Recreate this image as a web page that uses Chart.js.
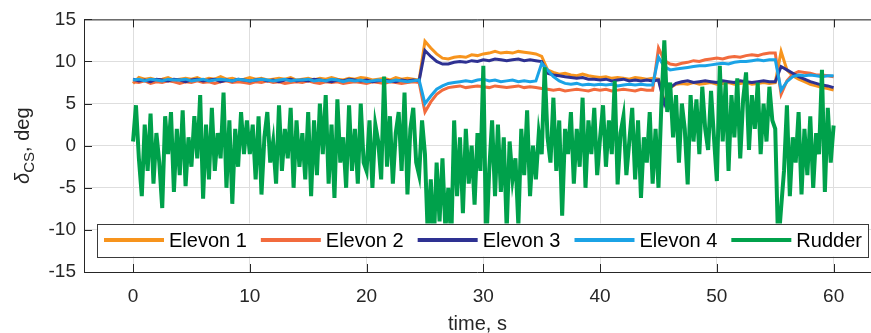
<!DOCTYPE html>
<html>
<head>
<meta charset="utf-8">
<script src="https://cdn.jsdelivr.net/npm/chart.js@4.4.1/dist/chart.umd.min.js"></script>
<style>
  html, body { margin: 0; padding: 0; background: #fff; }
</style>
</head>
<body>
<canvas id="mycanvas1" width="871" height="333"></canvas>
<script>
// sampling steps (s)
var dtElevon = 0.5;
var dtRudder = 0.25;

var seriesNames = ["Elevon 1", "Elevon 2", "Elevon 3", "Elevon 4", "Rudder"];
var xTicks = [0, 10, 20, 30, 40, 50, 60];
var yTicks = [-15, -10, -5, 0, 5, 10, 15];

// deflections, deg (t = 0, 0.5, ... 60)
var elevon1 = [
  7.4, 8.1, 7.9, 8.0, 7.8, 7.9, 8.1, 7.8, 7.9, 8.0,
  7.9, 8.1, 7.8, 8.0, 7.9, 8.2, 7.9, 8.0, 7.8, 7.9,
  8.1, 7.9, 8.0, 7.8, 7.9, 8.0, 7.9, 8.1, 7.8, 7.9,
  8.0, 7.8, 8.0, 7.9, 8.1, 7.9, 7.8, 8.0, 7.9, 8.1,
  8.0, 7.8, 7.9, 8.0, 7.8, 8.1, 7.9, 8.0, 7.9, 7.8,
  12.4, 11.6, 10.9, 10.4, 10.3, 10.5, 10.6, 10.5, 10.8, 10.7,
  10.9, 11.0, 11.2, 11.0, 11.1, 11.0, 11.2, 11.1, 11.0, 10.9,
  10.6, 9.0, 8.7, 8.5, 8.6, 8.4, 8.3, 8.5, 8.3, 8.2,
  8.1, 8.2, 8.0, 8.1, 8.0, 7.9, 8.1, 8.0, 7.9, 8.0,
  7.9, 5.2, 6.9, 7.3, 7.4, 7.3, 7.5, 7.3, 7.4, 7.5,
  7.3, 7.4, 7.5, 7.3, 7.4, 7.5, 7.3, 7.4, 7.5, 7.4,
  7.5, 11.2, 9.0, 8.3, 7.9, 7.6, 7.3, 7.1, 6.9, 6.8, 6.6
];
var elevon2 = [
  7.6, 7.5, 7.7, 7.4, 7.6, 7.5, 7.7, 7.6, 7.4, 7.6,
  7.5, 7.7, 7.5, 7.6, 7.4, 7.6, 7.7, 7.5, 7.6, 7.5,
  7.4, 7.6, 7.5, 7.7, 7.5, 7.6, 7.4, 7.5, 7.6, 7.5,
  7.7, 7.5, 7.4, 7.6, 7.5, 7.6, 7.4, 7.5, 7.6, 7.5,
  7.4, 7.6, 7.5, 7.4, 7.6, 7.5, 7.4, 7.5, 7.6, 7.5,
  4.0, 5.2, 6.1, 6.6, 6.9, 7.0, 7.1, 6.9, 7.0, 7.1,
  7.0, 6.9, 7.1, 7.0, 6.9, 7.0, 7.1, 6.9, 7.0, 6.9,
  6.8, 6.7, 6.6, 6.7, 6.5, 6.6, 6.7, 6.6, 6.5, 6.7,
  6.6, 6.7, 6.5, 6.6, 6.7, 6.6, 6.5, 6.7, 6.6, 6.6,
  11.6, 10.1, 9.7, 9.6, 9.8, 9.9, 10.1, 10.0, 10.2, 10.3,
  10.4, 10.3, 10.5, 10.6, 10.5, 10.7, 10.8, 10.7, 10.9, 11.0,
  11.0, 6.1, 7.7, 8.5, 8.8, 8.7, 8.6, 8.4, 8.4, 8.3, 8.2
];
var elevon3 = [
  7.9, 7.7, 7.8, 7.6, 7.9, 7.8, 7.7, 7.9, 7.8, 7.6,
  7.8, 7.9, 7.7, 7.8, 7.9, 7.6, 7.8, 7.7, 7.9, 7.8,
  7.7, 7.8, 7.9, 7.7, 7.8, 7.6, 7.8, 7.9, 7.7, 7.8,
  7.7, 7.9, 7.8, 7.7, 7.6, 7.8, 7.7, 7.9, 7.8, 7.7,
  7.8, 7.6, 7.7, 7.8, 7.7, 7.6, 7.8, 7.7, 7.8, 7.7,
  11.3, 10.6, 10.0, 9.7, 9.7, 9.9, 10.0, 9.9, 10.1, 10.0,
  10.2, 10.1, 10.3, 10.2, 10.1, 10.2, 10.3, 10.1, 10.2, 10.1,
  10.0, 8.6, 8.4, 8.3, 8.2, 8.1, 8.0, 8.1, 7.9, 7.9,
  7.8, 7.9, 7.7, 7.8, 7.9, 7.7, 7.8, 7.7, 7.8, 7.7,
  7.8, 5.0, 6.9, 7.4, 7.6, 7.7, 7.5, 7.6, 7.7, 7.6,
  7.5, 7.7, 7.6, 7.5, 7.7, 7.6, 7.5, 7.6, 7.7, 7.6,
  7.6, 9.4, 9.0, 8.6, 8.2, 7.9, 7.6, 7.4, 7.2, 7.1, 6.9
];
var elevon4 = [
  7.8, 7.9, 7.7, 7.9, 7.8, 7.7, 7.9, 7.8, 7.8, 7.9,
  7.7, 7.8, 7.9, 7.7, 7.8, 7.9, 7.8, 7.7, 7.9, 7.8,
  7.7, 7.8, 7.9, 7.8, 7.7, 7.8, 7.9, 7.7, 7.8, 7.8,
  7.9, 7.7, 7.8, 7.7, 7.9, 7.8, 7.6, 7.8, 7.7, 7.8,
  7.6, 7.7, 7.8, 7.7, 7.6, 7.8, 7.7, 7.6, 7.7, 7.8,
  5.0, 5.9, 6.7, 7.1, 7.4, 7.5, 7.6, 7.7, 7.6, 7.8,
  7.9, 7.7, 7.8, 7.6, 7.7, 7.8, 7.6, 7.7, 7.6, 7.7,
  9.8, 9.0, 8.2, 7.7, 7.4, 7.3, 7.4, 7.2, 7.3, 7.2,
  7.3, 7.2, 7.3, 7.1, 7.2, 7.3, 7.2, 7.3, 7.2, 7.2,
  10.5, 9.4, 9.0, 9.1, 9.2, 9.3, 9.4, 9.5, 9.5, 9.6,
  9.7, 9.8, 9.7, 9.9, 10.0, 10.0, 10.1, 10.2, 10.1, 10.2,
  10.2, 6.6, 7.6, 8.2, 8.4, 8.3, 8.4, 8.3, 8.2, 8.3, 8.3
];
// t = 0, 0.25, ... 60
var rudder = [
  0.5, 4.8, -1.5, -6.0, 2.5, -3.0, 3.8, -4.5, 1.5, -2.0, -7.4, 3.5, -1.0, 4.0, -5.5, 2.0, -3.5, 4.2, -4.8, 1.0,
  -2.5, 3.5, -1.5, 6.0, -6.3, 2.5, -4.0, 4.5, -3.0, 1.5, -1.5, 6.3, -5.0, 3.0, -6.9, 2.0, -2.5, 4.0, -1.0, 3.0,
  -1.0, 2.5, -4.0, 3.5, -5.8, 1.0, 4.0, -2.0, 0.5, -4.5, 4.8, -3.0, 2.0, -1.5, 4.5, -5.0, 3.0, -2.5, 1.5, -4.0,
  4.0, -6.0, 3.0, -3.5, 5.0, -1.0, 6.0, -4.5, 2.5, -6.2, 5.5, -2.0, 1.0, -5.0, 4.8, -3.0, 2.0, -4.5, 5.0, -2.0,
  -3.0, 3.0, -5.0, 2.5, 0.5, -4.0, 8.2, -2.5, 3.5, -4.5, 1.5, 4.0, -3.0, 6.3, -5.8, 2.0, 4.5, -2.0, -3.5, 3.0,
  -1.0, -11.0, -4.0, -12.0, -2.0, -9.0, -1.5, -10.0, -5.0, -11.5, 3.0, -6.0, 1.0, -8.0, 2.0, -4.5, 0.0, -7.0, 1.5, -3.0,
  9.5, -12.0, -3.0, 3.0, -6.0, 2.5, -5.5, 1.0, -10.0, 0.5, -4.0, -1.5, -9.5, 2.0, -3.5, 4.2, -6.0, 0.0, -4.0, 1.5,
  -1.0, 9.3, 1.0, -2.0, 5.7, -3.0, 3.0, -8.3, 2.0, -1.0, 4.0, -4.5, 2.0, -2.5, 5.7, -5.0, 3.0, -1.0, 4.5, -3.5,
  1.0, 4.8, -2.5, 3.0, -1.0, 7.7, -4.6, 1.5, 3.5, -3.5, 0.5, 4.5, -4.0, 3.0, -6.2, 1.0, -2.0, 4.0, -4.5, 2.0,
  -5.0, 5.0, 12.5, 4.0, 7.5, 1.0, 6.0, -2.0, 5.0, 2.0, -4.6, 6.0, 0.5, 5.5, -1.0, 7.0, 2.0, -0.5, 6.5, 1.0,
  -4.2, 9.5, 0.5, 7.5, -3.0, 6.0, 1.0, 8.0, -1.5, 5.5, 8.7, -0.5, 6.0, 2.0, 7.5, -1.0, 5.0, 0.5, 7.0, 3.0,
  2.0, -12.0, -7.4, -3.0, 4.8, -6.0, 1.0, -2.0, 4.0, -5.8, 2.0, -3.5, 3.5, -5.0, 1.5, -1.0, 9.0, -5.5, 4.5, -2.0,
  2.4
];

var colors = ["#F7941D", "#F26B3D", "#2E3192", "#1BA3E6", "#00A14B"];
var fontFam = "'Liberation Sans', Arial, Helvetica, sans-serif";
var ink = "#262626";

function toPoints(vals, dt) {
  var pts = [];
  for (var i = 0; i < vals.length; i++) pts.push({x: i * dt, y: vals[i]});
  return pts;
}

var allSeries = [
  toPoints(elevon1, dtElevon),
  toPoints(elevon2, dtElevon),
  toPoints(elevon3, dtElevon),
  toPoints(elevon4, dtElevon),
  toPoints(rudder, dtRudder)
];

var datasets = [];
for (var i = 0; i < allSeries.length; i++) {
  datasets.push({
    label: seriesNames[i],
    data: allSeries[i],
    borderColor: colors[i],
    backgroundColor: colors[i],
    borderWidth: i == 4 ? 4 : 3,
    pointRadius: 0,
    fill: false,
    tension: 0,
    order: 4 - i   // rudder on top, elevon 1 at the bottom
  });
}

// axes box, inward ticks and axis titles
var framePlugin = {
  id: 'frame',
  afterDatasetsDraw: function(chart) {
    var ctx = chart.ctx, a = chart.chartArea;
    var xs = chart.scales.x, ys = chart.scales.y;
    ctx.save();
    ctx.strokeStyle = ink;
    ctx.lineWidth = 1;
    ctx.beginPath();
    ctx.moveTo(a.left + 0.5, a.top); ctx.lineTo(a.left + 0.5, a.bottom);
    ctx.moveTo(a.left, a.top + 0.5); ctx.lineTo(a.right, a.top + 0.5);
    ctx.moveTo(a.left, a.bottom + 0.5); ctx.lineTo(a.right, a.bottom + 0.5);
    xTicks.forEach(function(v) {
      var px = Math.round(xs.getPixelForValue(v)) + 0.5;
      ctx.moveTo(px, a.bottom); ctx.lineTo(px, a.bottom - 8);
      ctx.moveTo(px, a.top); ctx.lineTo(px, a.top + 8);
    });
    yTicks.forEach(function(v) {
      var py = Math.round(ys.getPixelForValue(v)) + 0.5;
      ctx.moveTo(a.left, py); ctx.lineTo(a.left + 8, py);
    });
    ctx.stroke();

    // x title
    ctx.fillStyle = ink;
    ctx.font = "20px " + fontFam;
    ctx.textAlign = 'center';
    ctx.textBaseline = 'alphabetic';
    ctx.fillText("time, s", (a.left + a.right) / 2, 330);

    // y title with subscript
    ctx.translate(29, (a.top + a.bottom) / 2);
    ctx.rotate(-Math.PI / 2);
    ctx.textAlign = 'left';
    var fMain = "20px " + fontFam, fDelta = "italic 20px " + fontFam, fSub = "15px " + fontFam;
    ctx.font = fDelta; var w1 = ctx.measureText("δ").width;
    ctx.font = fSub; var w2 = ctx.measureText("CS").width;
    ctx.font = fMain; var w3 = ctx.measureText(", deg").width;
    var x0 = -(w1 + w2 + w3) / 2;
    ctx.font = fDelta; ctx.fillText("δ", x0, 0);
    ctx.font = fSub; ctx.fillText("CS", x0 + w1, 5);
    ctx.font = fMain; ctx.fillText(", deg", x0 + w1 + w2, 0);
    ctx.restore();
  }
};

// legend box inside the axes, bottom
var legendPlugin = {
  id: 'boxLegend',
  afterDraw: function(chart) {
    var ctx = chart.ctx, a = chart.chartArea;
    ctx.save();
    ctx.font = "20px " + fontFam;
    var padL = 7, lineLen = 60, gapText = 5, gapItem = 14, padR = 6;
    var total = padL;
    var widths = [];
    chart.data.datasets.forEach(function(ds, i) {
      var w = ctx.measureText(ds.label).width;
      widths.push(w);
      total += lineLen + gapText + w + (i < chart.data.datasets.length - 1 ? gapItem : 0);
    });
    total += padR;
    var bx = a.left + 13, bh = 33, by = a.bottom - 15.5 - bh;
    ctx.fillStyle = '#ffffff';
    ctx.fillRect(bx, by, total, bh);
    ctx.strokeStyle = '#3a3a3a';
    ctx.lineWidth = 1;
    ctx.strokeRect(Math.round(bx) + 0.5, Math.round(by) + 0.5, Math.round(total), bh);
    var cy = by + bh / 2;
    var x = bx + padL;
    ctx.textBaseline = 'middle';
    ctx.textAlign = 'left';
    chart.data.datasets.forEach(function(ds, i) {
      ctx.strokeStyle = ds.borderColor;
      ctx.lineWidth = 4;
      ctx.beginPath();
      ctx.moveTo(x, cy); ctx.lineTo(x + lineLen, cy);
      ctx.stroke();
      ctx.fillStyle = '#000000';
      ctx.fillText(ds.label, x + lineLen + gapText, cy + 1);
      x += lineLen + gapText + widths[i] + gapItem;
    });
    ctx.restore();
  }
};

var ctx = document.getElementById('mycanvas1');
var chart = new Chart(ctx, {
  type: 'line',
  data: { datasets: datasets },
  plugins: [framePlugin, legendPlugin],
  options: {
    responsive: false,
    animation: false,
    devicePixelRatio: 1,
    layout: { padding: { top: 16, right: 0, bottom: 0, left: 0 } },
    plugins: { legend: { display: false }, tooltip: { enabled: false } },
    scales: {
      x: {
        type: 'linear',
        min: -4.2,
        max: 63.2,
        afterBuildTicks: function(s) { s.ticks = xTicks.map(function(v) { return {value: v}; }); },
        afterFit: function(s) { s.height = 61; },
        grid: { color: '#dedede', drawTicks: false },
        border: { display: false },
        ticks: { color: ink, font: { family: fontFam, size: 19 }, padding: 13, maxRotation: 0 }
      },
      y: {
        type: 'linear',
        min: -15,
        max: 15,
        afterBuildTicks: function(s) { s.ticks = yTicks.map(function(v) { return {value: v}; }); },
        afterFit: function(s) { s.width = 84; },
        grid: { color: '#dedede', drawTicks: false },
        border: { display: false },
        ticks: { color: ink, font: { family: fontFam, size: 19 }, padding: 8 }
      }
    }
  }
});
</script>
</body>
</html>
